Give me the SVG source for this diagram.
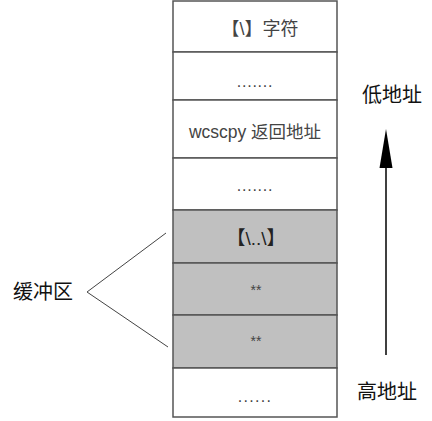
<svg xmlns="http://www.w3.org/2000/svg" width="432" height="421" viewBox="0 0 432 421">
<style>
.cell{stroke:#555;stroke-width:1.5}
.w{fill:#fff}
.g{fill:#c0c0c0}
.t{font-family:"Liberation Sans","Noto Sans CJK SC",sans-serif;font-size:16px;fill:#444;text-anchor:middle}
.lbl{font-family:"Liberation Sans","Noto Sans CJK SC",sans-serif;font-size:20px;fill:#111;text-anchor:middle}
.ln{stroke:#444;stroke-width:1;fill:none}
</style>
<rect width="432" height="421" fill="#fff"/>
<g id="row1"><rect class="cell w" x="173" y="1" width="164" height="51"/><text class="t" x="260" y="35" style="font-size:18px">【\】字符</text></g>
<g id="row2"><rect class="cell w" x="173" y="52" width="164" height="48"/><text class="t" x="255" y="87" letter-spacing="0.8">.......</text></g>
<g id="row3"><rect class="cell w" x="173" y="100" width="164" height="58"/><text class="t" x="255" y="138" style="font-size:17.5px">wcscpy 返回地址</text></g>
<g id="row4"><rect class="cell w" x="173" y="158" width="164" height="52"/><text class="t" x="255" y="191" letter-spacing="0.8">.......</text></g>
<g id="row5"><rect class="cell g" x="173" y="210" width="164" height="53"/><text class="t" x="256" y="245" style="fill:#222;font-size:19px">【\..\】</text></g>
<g id="row6"><rect class="cell g" x="173" y="263" width="164" height="52"/><text class="t" x="256" y="295" style="font-size:14px">**</text></g>
<g id="row7"><rect class="cell g" x="173" y="315" width="164" height="53"/><text class="t" x="256" y="346" style="font-size:14px">**</text></g>
<g id="row8"><rect class="cell w" x="173" y="368" width="164" height="49"/><text class="t" x="255" y="402" letter-spacing="1.3">......</text></g>
<g id="buffer-label"><text class="lbl" x="43" y="299">缓冲区</text></g>
<g id="low-label"><text class="lbl" x="392" y="102">低地址</text></g>
<g id="high-label"><text class="lbl" x="387" y="399">高地址</text></g>
<g id="connectors">
<polyline class="ln" points="166,233 87,292 168,347"/>
<line x1="386" y1="355" x2="386" y2="168" stroke="#000" stroke-width="1.5"/>
<path d="M386 129 L392.5 168 L379.5 168 Z" fill="#000"/>
</g>
</svg>
